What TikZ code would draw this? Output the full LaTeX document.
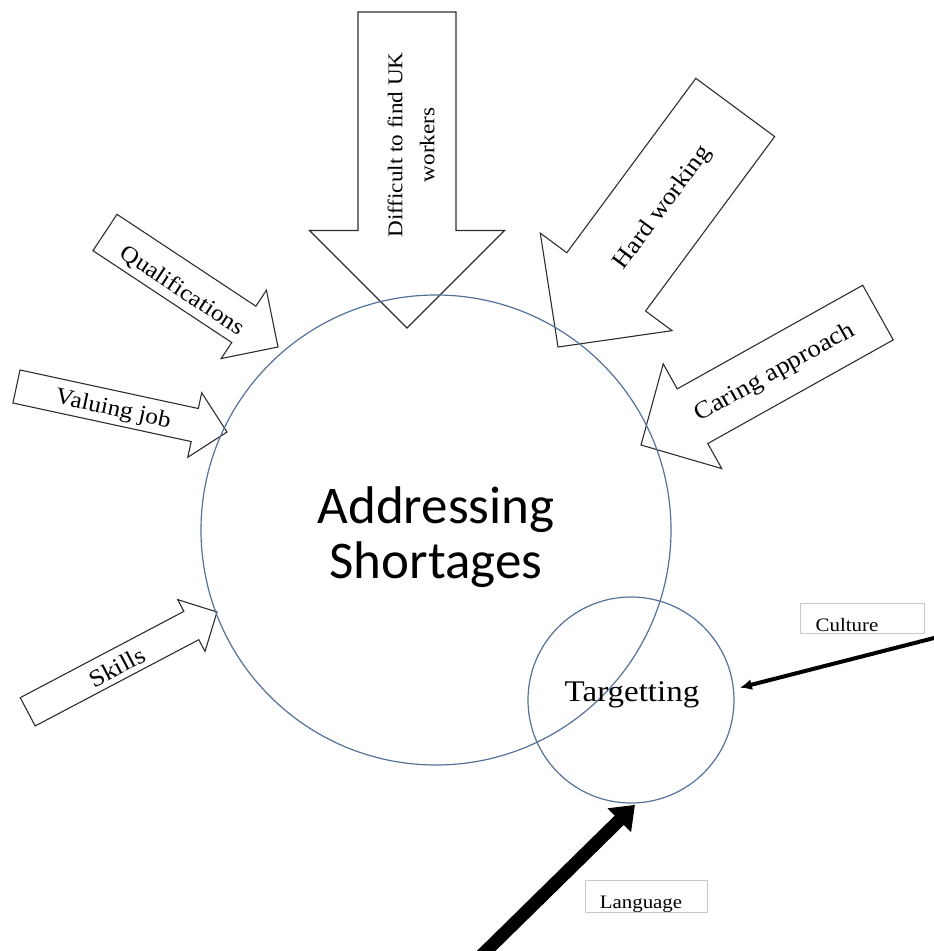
\documentclass[tikz,border=0pt]{standalone}
\usepackage{fontspec}
\setmainfont{Liberation Serif}[FakeStretch=1.1]
\newfontfamily\calibrifont{Carlito}
\usetikzlibrary{arrows.meta,calc}
\definecolor{ringblue}{RGB}{84,114,152}
\definecolor{boxgray}{RGB}{200,200,200}
% tip x, tip y, angle, length, head length, shaft half width, head half width
\newcommand\blockarr[7]{%
  \begin{scope}[shift={(#1,#2)},rotate=#3]
    \draw[blockarrow] (0,0) -- (-#5,#7) -- (-#5,#6) -- (-#4,#6) -- (-#4,-#6)
      -- (-#5,-#6) -- (-#5,-#7) -- cycle;
  \end{scope}}
\begin{document}
\begin{tikzpicture}[x=1pt,y=-1pt,
  blockarrow/.style={draw=black!82, line width=1.1pt, line join=miter},
  lbl/.style={inner sep=0pt, font=\fontsize{23}{28}\selectfont},
  ring/.style={circle, draw=ringblue, line width=1.2pt, inner sep=0pt},
  tagbox/.style={draw=boxgray, line width=0.8pt, inner sep=0pt},
  tagtext/.style={inner sep=0pt, anchor=base, font=\fontsize{19}{23}\selectfont}]
\useasboundingbox (0,0) rectangle (934,951);

% block arrows
\blockarr{407}{328}{-90}{316}{97.5}{49}{97.5}
\blockarr{558}{347}{233.5}{298}{81}{49}{82}
\blockarr{641}{445}{209.2}{271.5}{59}{31.3}{60}
\blockarr{278}{347}{-33.5}{207.5}{41}{21.8}{41}
\blockarr{227}{432}{-12.2}{215.4}{33}{16.9}{33}
\blockarr{217}{612}{27.8}{214}{29}{16}{29.3}

% arrow labels
\node[lbl, rotate=90, align=center, font=\fontsize{21}{32}\selectfont] (tdiff) at (411,145) {Difficult to find UK\\workers};
\node[lbl, rotate=53.5, font=\fontsize{24}{28}\selectfont] (thard) at (663,208) {Hard working};
\node[lbl, rotate=29.2, font=\fontsize{24.5}{28}\selectfont] (tcare) at (775,373) {Caring approach};
\node[lbl, rotate=-33.5] (tqual) at (182,291) {Qualifications};
\node[lbl, rotate=-12.2] (tval) at (113,410) {Valuing job};
\node[lbl, rotate=27.8, font=\fontsize{24}{28}\selectfont] (tskill) at (117,667) {Skills};

% circles
\node[ring, minimum size=470pt] (main) at (436,530) {};
\node[inner sep=0pt, align=center, font=\calibrifont\fontsize{53}{55}\selectfont] (title) at (436,537) {Addressing\\Shortages};
\node[ring, minimum size=206pt] (targ) at (631,700) {};
\node[inner sep=0pt, font=\fontsize{30}{36}\selectfont] (targtext) at (632,695) {Targetting};

% text boxes
\node[tagbox, minimum width=124pt, minimum height=30pt] (cbox) at (862,618) {};
\node[tagtext] (ctext) at (847,631) {Culture};
\node[tagbox, minimum width=122pt, minimum height=32pt] (lbox) at (646,896) {};
\node[tagtext] (ltext) at (641,908) {Language};

% black arrows
\coordinate (cstart) at (938,637);
\draw[line width=4pt, -{Latex[length=12pt,width=11pt]}, shorten >=6pt] (cstart) -- (targ.6);
\coordinate (lstart) at (481,956);
\draw[line width=13pt, -{Triangle[length=22pt,width=32pt]}, shorten >=2pt] (lstart) -- (targ.-87);
\end{tikzpicture}
\end{document}
